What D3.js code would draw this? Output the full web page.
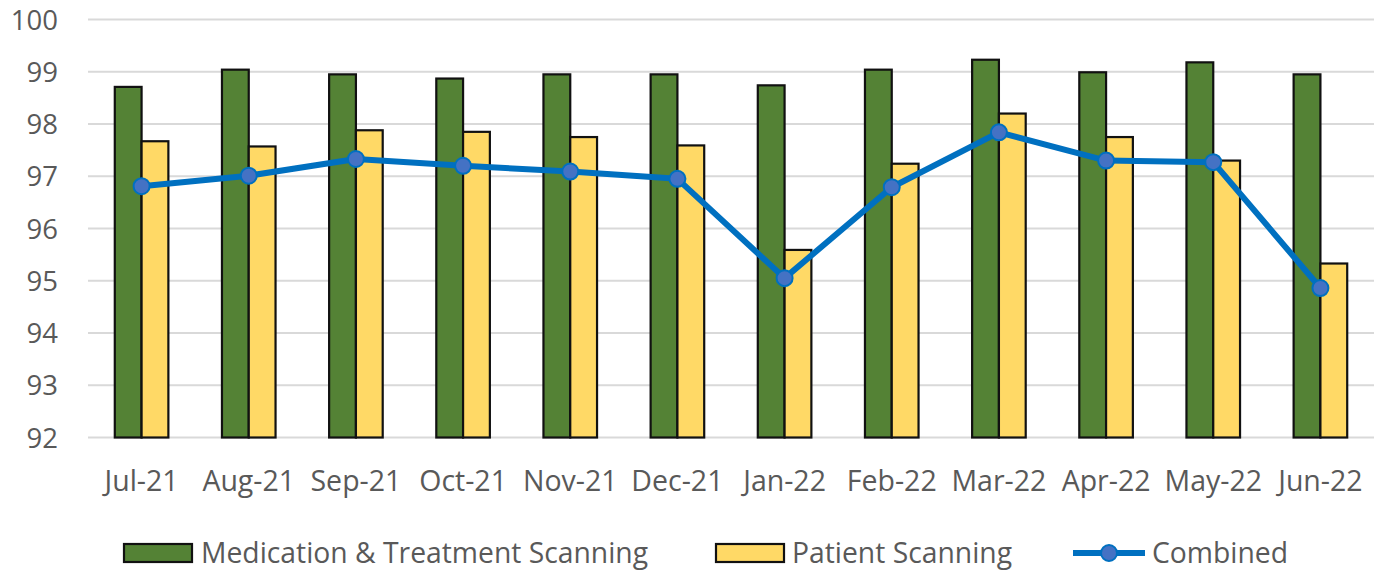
<!DOCTYPE html>
<html><head><meta charset="utf-8">
<script src="https://cdn.jsdelivr.net/npm/d3@7"></script>
<style>
html,body{margin:0;padding:0;background:#fff;}
svg text{font-family:"Open Sans","Noto Sans",sans-serif;fill:#595959;}
</style></head>
<body><svg id="chart" width="1379" height="571"></svg>
<script>
const categories = ["Jul-21","Aug-21","Sep-21","Oct-21","Nov-21","Dec-21","Jan-22","Feb-22","Mar-22","Apr-22","May-22","Jun-22"];
const medication = [98.71,99.04,98.95,98.87,98.95,98.95,98.74,99.04,99.23,98.99,99.18,98.95];
const patient = [97.67,97.57,97.88,97.85,97.75,97.59,95.59,97.24,98.20,97.75,97.30,95.33];
const combined = [96.81,97.01,97.33,97.20,97.09,96.95,95.05,96.79,97.84,97.30,97.27,94.86];
const yTicks = [92,93,94,95,96,97,98,99,100];
const seriesNames = ["Medication & Treatment Scanning","Patient Scanning","Combined"];

const svg = d3.select("#chart");
const m = {left:88, right:1374, top:19.5, bottom:437.5};
const x = d3.scaleBand().domain(categories).range([m.left, m.right]).paddingInner(0.5).paddingOuter(0.25);
const xs = d3.scaleBand().domain([0,1]).range([0, x.bandwidth()]);
const y = d3.scaleLinear().domain([92,100]).range([m.bottom, m.top]);

// gridlines
svg.append("g").selectAll("line").data(yTicks).join("line")
  .attr("x1", m.left).attr("x2", m.right)
  .attr("y1", d=>y(d)).attr("y2", d=>y(d))
  .attr("stroke", "#d9d9d9").attr("stroke-width", 2);

// y axis
const yAxis = d3.axisLeft(y).tickValues(yTicks).tickSize(0).tickPadding(0);
const yg = svg.append("g").attr("transform", `translate(58,0)`).call(yAxis);
yg.select(".domain").remove();
yg.selectAll("text").attr("font-size", 27.5).attr("fill", "#595959").attr("dy","0.35em").style("font-family",'"Open Sans",sans-serif');

// bars
const g = svg.append("g");
g.selectAll("rect.med").data(medication).join("rect").attr("class","med")
  .attr("x", (d,i)=>x(categories[i]) + xs(0)).attr("width", xs.bandwidth())
  .attr("y", d=>y(d)).attr("height", d=>y(92)-y(d))
  .attr("fill", "#548235").attr("stroke", "#111").attr("stroke-width", 2.2);
g.selectAll("rect.pat").data(patient).join("rect").attr("class","pat")
  .attr("x", (d,i)=>x(categories[i]) + xs(1)).attr("width", xs.bandwidth())
  .attr("y", d=>y(d)).attr("height", d=>y(92)-y(d))
  .attr("fill", "#FFD966").attr("stroke", "#111").attr("stroke-width", 2.2);

// x axis
const xAxis = d3.axisBottom(x).tickSize(0).tickPadding(0);
const xg = svg.append("g").attr("transform", `translate(0,${m.bottom})`).call(xAxis);
xg.select(".domain").remove();
xg.selectAll("text").attr("font-size", 28.5).attr("fill", "#595959").attr("y", 0).attr("dy", 53.5).style("font-family",'"Open Sans",sans-serif');

// line
const cx = (d,i)=>x(categories[i]) + x.bandwidth()/2;
const line = d3.line().x(cx).y(d=>y(d));
svg.append("path").datum(combined).attr("d", line)
  .attr("fill","none").attr("stroke","#0070C0").attr("stroke-width",6).attr("stroke-linejoin","round");
svg.append("g").selectAll("circle").data(combined).join("circle")
  .attr("cx", cx).attr("cy", d=>y(d)).attr("r", 8)
  .attr("fill","#4472C4").attr("stroke","#0070C0").attr("stroke-width",2);

// legend
const lg = svg.append("g");
const ly = 553;
lg.append("rect").attr("x",124).attr("y",ly-9).attr("width",68).attr("height",18)
  .attr("fill","#548235").attr("stroke","#111").attr("stroke-width",2.2);
lg.append("text").attr("x",201).attr("y",ly).attr("dy","0.35em").attr("font-size",28.3).text(seriesNames[0]);
lg.append("rect").attr("x",716).attr("y",ly-9).attr("width",68).attr("height",18)
  .attr("fill","#FFD966").attr("stroke","#111").attr("stroke-width",2.2);
lg.append("text").attr("x",792).attr("y",ly).attr("dy","0.35em").attr("font-size",28.3).text(seriesNames[1]);
lg.append("line").attr("x1",1073).attr("x2",1145).attr("y1",ly).attr("y2",ly)
  .attr("stroke","#0070C0").attr("stroke-width",6);
lg.append("circle").attr("cx",1109).attr("cy",ly).attr("r",8)
  .attr("fill","#4472C4").attr("stroke","#0070C0").attr("stroke-width",2);
lg.append("text").attr("x",1152).attr("y",ly).attr("dy","0.35em").attr("font-size",28.3).text(seriesNames[2]);
</script></body></html>
